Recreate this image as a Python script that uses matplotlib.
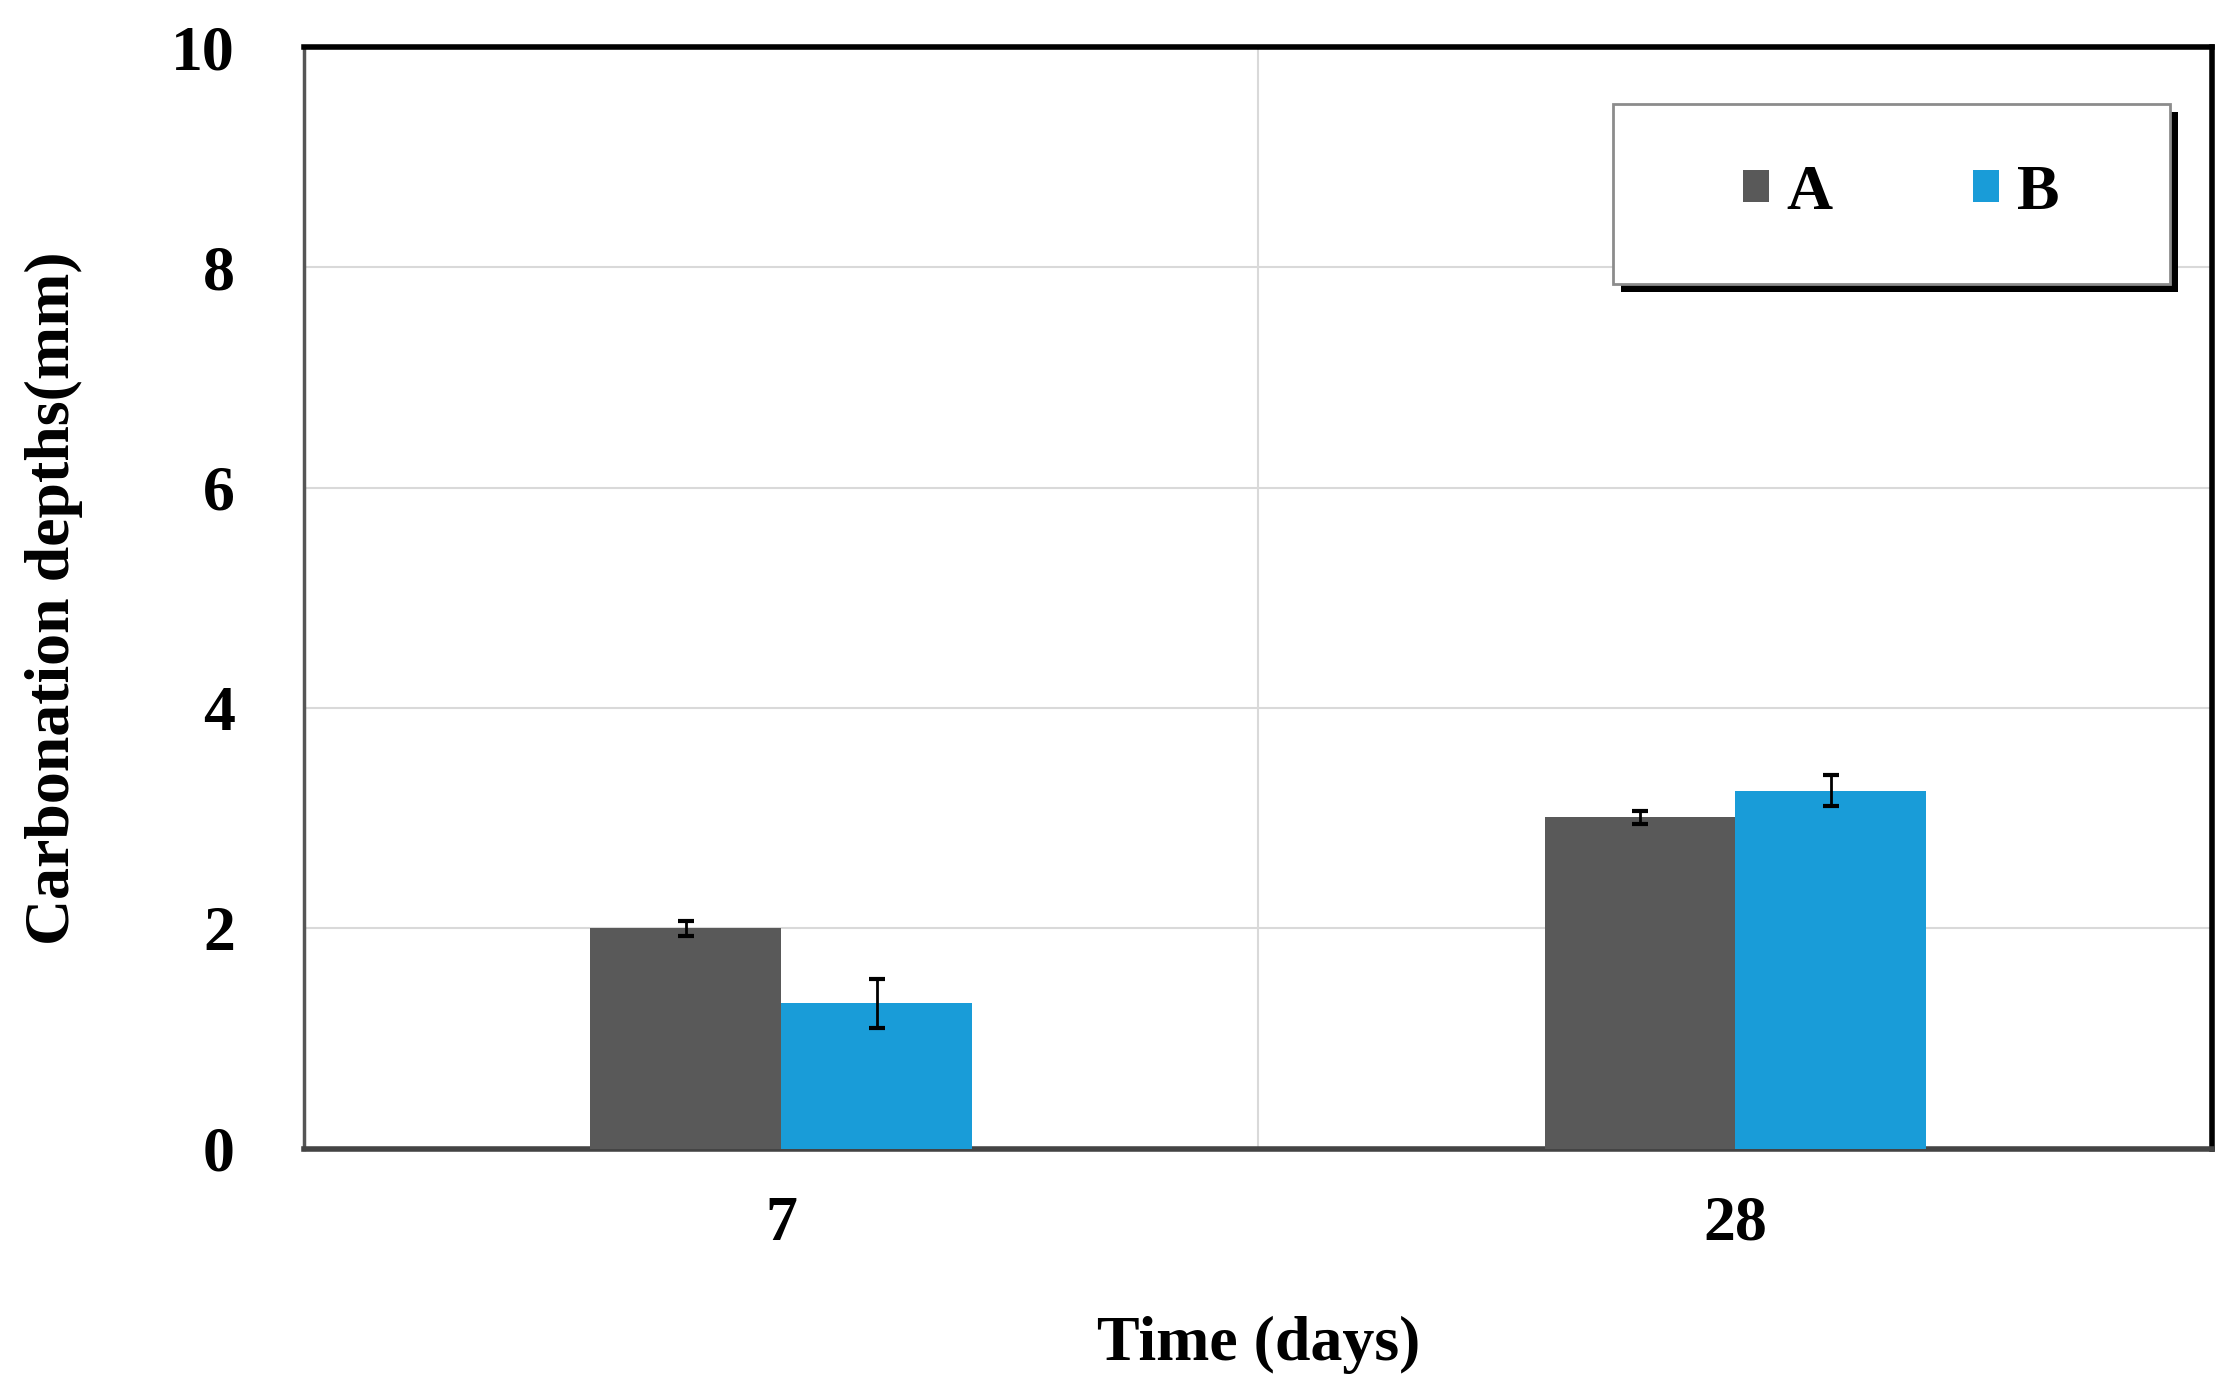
import matplotlib
matplotlib.use("Agg")
import matplotlib.pyplot as plt
import numpy as np
from matplotlib.patches import Rectangle
from matplotlib.ticker import FixedLocator

categories = ["7", "28"]
series_names = ["A", "B"]
values_A = [2.00, 3.01]
errors_A = [0.07, 0.06]
values_B = [1.32, 3.25]
errors_B = [0.22, 0.14]
yticks = [0, 2, 4, 6, 8, 10]

plt.rcParams['font.family'] = ['Liberation Serif', 'DejaVu Serif']
plt.rcParams['font.weight'] = 'bold'

fig = plt.figure(figsize=(22.37, 13.84), dpi=100)
ax = fig.add_axes([0.136, 0.17, 0.853, 0.796])

x = np.arange(len(categories))
w = 0.2
colA = '#595959'
colB = '#199cd8'
ax.bar(x - w/2, values_A, w, color=colA, label=series_names[0], zorder=3)
ax.bar(x + w/2, values_B, w, color=colB, label=series_names[1], zorder=3)
ax.errorbar(x - w/2, values_A, yerr=errors_A, fmt='none', ecolor='black',
            elinewidth=2, capsize=6, capthick=3, zorder=4)
ax.errorbar(x + w/2, values_B, yerr=errors_B, fmt='none', ecolor='black',
            elinewidth=2, capsize=6, capthick=3, zorder=4)

ax.set_xlim(-0.5, 1.5)
ax.set_ylim(0, 10)
ax.set_xticks(x)
ax.set_xticklabels(categories)
ax.set_yticks(yticks)
ax.xaxis.set_minor_locator(FixedLocator([0.5]))
ax.tick_params(axis='both', which='both', length=0)
ax.tick_params(axis='y', pad=50, labelsize=46)
ax.tick_params(axis='x', pad=34, labelsize=46)
for lab in ax.get_xticklabels() + ax.get_yticklabels():
    lab.set_fontweight('bold')

ax.grid(axis='y', which='major', color='#d9d9d9', linewidth=1.5, zorder=0)
ax.grid(axis='x', which='minor', color='#d9d9d9', linewidth=1.5, zorder=0)
ax.set_axisbelow(True)

ax.spines['top'].set_color('black')
ax.spines['top'].set_linewidth(4)
ax.spines['right'].set_color('black')
ax.spines['right'].set_linewidth(4)
ax.spines['left'].set_color('#555555')
ax.spines['left'].set_linewidth(2.5)
ax.spines['bottom'].set_color('#444444')
ax.spines['bottom'].set_linewidth(4)

ax.set_xlabel("Time (days)", fontsize=46, fontweight='bold')
ax.set_ylabel("Carbonation depths(mm)", fontsize=46, fontweight='bold')
ax.xaxis.set_label_coords(0.5, -0.152)
ax.yaxis.set_label_coords(-0.116, 0.5)

# legend box with shadow
bx0, by0, bw, bh = 0.686, 0.785, 0.292, 0.163
ax.add_patch(Rectangle((bx0 + 0.004, by0 - 0.007), bw, bh, transform=ax.transAxes,
                       facecolor='black', edgecolor='none', zorder=5, clip_on=False))
ax.add_patch(Rectangle((bx0, by0), bw, bh, transform=ax.transAxes,
                       facecolor='white', edgecolor='#8c8c8c', linewidth=2, zorder=6, clip_on=False))
leg = ax.legend(loc='center', bbox_to_anchor=(bx0 + bw/2 + 0.005, by0 + bh/2),
                ncol=2, frameon=False, prop={'size': 46, 'weight': 'bold'},
                handlelength=0.4, handleheight=0.4, handletextpad=0.28,
                columnspacing=2.2)
leg.set_zorder(7)

fig.savefig("out.png", dpi=100)
